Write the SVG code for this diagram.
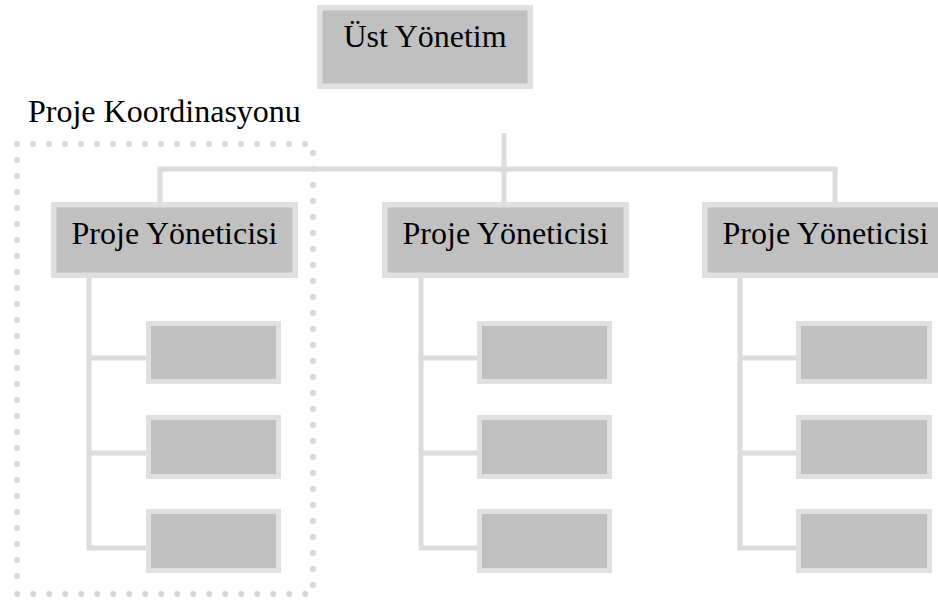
<svg xmlns="http://www.w3.org/2000/svg" width="938" height="603" viewBox="0 0 938 603">
  <style>
    .box { fill: #c0c0c0; stroke: #e0e0e0; stroke-width: 5.5; }
    .sub { fill: #c0c0c0; stroke: #e0e0e0; stroke-width: 5; }
    .lbl { font-family: "Liberation Serif", "Times New Roman", serif; font-size: 32px; fill: #000; }
    .conn { fill: none; stroke: #dcdcdc; stroke-width: 5; }
    .dots { fill: none; stroke: #d6d6d6; stroke-width: 6; stroke-linecap: round; stroke-dasharray: 0 16; }
  </style>
  <rect width="938" height="603" fill="#fff"/>

  <!-- coordination group outline -->
  <g id="coordination">
    <text class="lbl" x="28" y="122">Proje Koordinasyonu</text>
    <path class="dots" d="M17,144 H305.5"/>
    <path class="dots" d="M17,160 V576.5"/>
    <path class="dots" d="M17,594 H305.5"/>
    <path class="dots" d="M313,153 V585.5"/>
  </g>

  <!-- connectors -->
  <g id="connectors" class="conn">
    <path d="M504,133 V202"/>
    <path d="M160,202 V169 H835 V202"/>
    <path d="M89,278 V548 H146 M89,358 H146 M89,453 H146"/>
    <path d="M421,278 V548 H477 M421,358 H477 M421,453 H477"/>
    <path d="M740,278 V548 H796 M740,358 H796 M740,453 H796"/>
  </g>

  <g id="top">
    <rect class="box" x="319.75" y="7.75" width="210.5" height="78.5"/>
    <text class="lbl" x="425" y="47" text-anchor="middle">Üst Yönetim</text>
  </g>

  <g id="pm1">
    <rect class="box" x="53.75" y="204.75" width="241.5" height="70.5"/>
    <text class="lbl" x="174.5" y="244" text-anchor="middle">Proje Yöneticisi</text>
  </g>
  <g id="pm2">
    <rect class="box" x="384.75" y="204.75" width="241.5" height="70.5"/>
    <text class="lbl" x="505.5" y="244" text-anchor="middle">Proje Yöneticisi</text>
  </g>
  <g id="pm3">
    <rect class="box" x="704.75" y="204.75" width="241.5" height="70.5"/>
    <text class="lbl" x="825.5" y="244" text-anchor="middle">Proje Yöneticisi</text>
  </g>

  <g id="t1a"><rect class="sub" x="148.5" y="323.5" width="130" height="58"/></g>
  <g id="t1b"><rect class="sub" x="148.5" y="417.5" width="130" height="59"/></g>
  <g id="t1c"><rect class="sub" x="148.5" y="511.5" width="130" height="59"/></g>

  <g id="t2a"><rect class="sub" x="479.5" y="323.5" width="130" height="58"/></g>
  <g id="t2b"><rect class="sub" x="479.5" y="417.5" width="130" height="59"/></g>
  <g id="t2c"><rect class="sub" x="479.5" y="511.5" width="130" height="59"/></g>

  <g id="t3a"><rect class="sub" x="798.5" y="323.5" width="131" height="58"/></g>
  <g id="t3b"><rect class="sub" x="798.5" y="417.5" width="131" height="59"/></g>
  <g id="t3c"><rect class="sub" x="798.5" y="511.5" width="131" height="59"/></g>
</svg>
